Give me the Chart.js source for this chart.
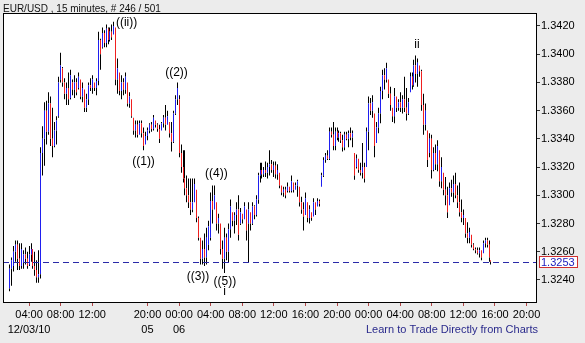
<!DOCTYPE html>
<html><head><meta charset="utf-8">
<script src="https://cdn.jsdelivr.net/npm/chart.js@4/dist/chart.umd.min.js"></script>
<style>html,body{margin:0;padding:0;background:#ececec;overflow:hidden}canvas{display:block}</style>
</head><body>
<canvas id="c" width="585" height="343"></canvas>
<script>
const high=[1.3251,1.3256,1.3264,1.3268,1.3268,1.3266,1.3266,1.3261,1.3263,1.3260,
1.3264,1.3266,1.3262,1.3260,1.3254,1.3261,1.3334,1.3349,1.3366,1.3367,
1.3373,1.3370,1.3362,1.3352,1.3356,1.3384,1.3401,1.3391,1.3383,1.3380,
1.3387,1.3389,1.3382,1.3385,1.3383,1.3387,1.3382,1.3380,1.3375,1.3372,
1.3380,1.3383,1.3385,1.3380,1.3383,1.3416,1.3411,1.3419,1.3417,1.3421,
1.3419,1.3419,1.3421,1.3423,1.3419,1.3397,1.3387,1.3385,1.3383,1.3387,
1.3380,1.3373,1.3368,1.3355,1.3353,1.3353,1.3353,1.3353,1.3348,1.3345,
1.3348,1.3351,1.3352,1.3357,1.3353,1.3351,1.3350,1.3352,1.3357,1.3364,
1.3360,1.3352,1.3352,1.3360,1.3371,1.3380,1.3371,1.3336,1.3332,1.3332,
1.3314,1.3312,1.3312,1.3312,1.3312,1.3304,1.3285,1.3270,1.3268,1.3273,
1.3277,1.3282,1.3302,1.3307,1.3307,1.3295,1.3287,1.3280,1.3268,1.3277,
1.3273,1.3280,1.3297,1.3288,1.3288,1.3295,1.3300,1.3291,1.3287,1.3295,
1.3290,1.3295,1.3288,1.3295,1.3293,1.3300,1.3316,1.3323,1.3323,1.3320,
1.3324,1.3323,1.3332,1.3325,1.3324,1.3324,1.3322,1.3316,1.3307,1.3306,
1.3306,1.3309,1.3306,1.3314,1.3309,1.3309,1.3311,1.3306,1.3299,1.3295,
1.3302,1.3295,1.3293,1.3288,1.3298,1.3295,1.3298,1.3297,1.3316,1.3327,
1.3330,1.3332,1.3348,1.3348,1.3352,1.3348,1.3348,1.3346,1.3345,1.3343,
1.3345,1.3345,1.3346,1.3348,1.3346,1.3330,1.3329,1.3326,1.3323,1.3337,
1.3323,1.3348,1.3370,1.3369,1.3371,1.3358,1.3352,1.3362,1.3377,1.3389,
1.3390,1.3394,1.3382,1.3377,1.3362,1.3376,1.3370,1.3368,1.3373,1.3371,
1.3384,1.3376,1.3369,1.3387,1.3387,1.3396,1.3399,1.3397,1.3392,1.3389,
1.3372,1.3365,1.3346,1.3344,1.3343,1.3334,1.3336,1.3339,1.3332,1.3327,
1.3316,1.3313,1.3306,1.3309,1.3311,1.3314,1.3316,1.3307,1.3309,1.3297,
1.3290,1.3284,1.3281,1.3277,1.3272,1.3266,1.3263,1.3263,1.3263,1.3261,
1.3268,1.3270,1.3270,1.3268,1.3254];
const low=[1.3232,1.3236,1.3246,1.3253,1.3247,1.3247,1.3248,1.3248,1.3251,1.3248,
1.3251,1.3253,1.3248,1.3243,1.3238,1.3238,1.3241,1.3314,1.3321,1.3336,
1.3343,1.3335,1.3327,1.3334,1.3336,1.3355,1.3380,1.3377,1.3368,1.3364,
1.3364,1.3369,1.3371,1.3369,1.3371,1.3375,1.3368,1.3366,1.3359,1.3359,
1.3364,1.3374,1.3372,1.3374,1.3371,1.3378,1.3389,1.3404,1.3405,1.3405,
1.3407,1.3409,1.3410,1.3414,1.3378,1.3372,1.3371,1.3368,1.3371,1.3372,
1.3363,1.3362,1.3355,1.3343,1.3341,1.3341,1.3343,1.3341,1.3332,1.3336,
1.3339,1.3344,1.3345,1.3346,1.3348,1.3345,1.3337,1.3346,1.3348,1.3346,
1.3350,1.3341,1.3331,1.3337,1.3357,1.3364,1.3327,1.3316,1.3309,1.3300,
1.3295,1.3291,1.3286,1.3288,1.3295,1.3281,1.3268,1.3251,1.3251,1.3250,
1.3251,1.3261,1.3268,1.3280,1.3290,1.3275,1.3273,1.3258,1.3248,1.3245,
1.3254,1.3252,1.3270,1.3278,1.3273,1.3279,1.3268,1.3279,1.3280,1.3283,
1.3268,1.3252,1.3275,1.3279,1.3283,1.3285,1.3294,1.3309,1.3312,1.3313,
1.3313,1.3312,1.3314,1.3316,1.3313,1.3312,1.3311,1.3305,1.3300,1.3299,
1.3298,1.3302,1.3302,1.3302,1.3302,1.3304,1.3299,1.3292,1.3287,1.3275,
1.3286,1.3281,1.3280,1.3282,1.3285,1.3286,1.3292,1.3292,1.3306,1.3313,
1.3323,1.3325,1.3325,1.3341,1.3332,1.3332,1.3339,1.3338,1.3337,1.3331,
1.3332,1.3339,1.3334,1.3339,1.3334,1.3311,1.3319,1.3316,1.3314,1.3312,
1.3309,1.3320,1.3332,1.3357,1.3355,1.3327,1.3337,1.3344,1.3351,1.3368,
1.3375,1.3380,1.3369,1.3360,1.3352,1.3351,1.3359,1.3360,1.3359,1.3358,
1.3359,1.3353,1.3357,1.3373,1.3375,1.3377,1.3380,1.3377,1.3384,1.3360,
1.3343,1.3346,1.3320,1.3327,1.3312,1.3317,1.3318,1.3317,1.3306,1.3305,
1.3300,1.3293,1.3284,1.3293,1.3299,1.3295,1.3298,1.3291,1.3285,1.3281,
1.3279,1.3270,1.3266,1.3266,1.3263,1.3261,1.3259,1.3258,1.3256,1.3254,
1.3259,1.3263,1.3263,1.3253,1.3251];
const open=[1.3234,1.3248,1.3250,1.3260,1.3265,1.3255,1.3250,1.3252,1.3258,1.3255,
1.3250,1.3258,1.3262,1.3250,1.3247,1.3242,1.3244,1.3330,1.3340,1.3360,
1.3345,1.3365,1.3340,1.3335,1.3346,1.3356,1.3382,1.3390,1.3380,1.3372,
1.3376,1.3368,1.3380,1.3375,1.3380,1.3376,1.3382,1.3370,1.3375,1.3362,
1.3368,1.3378,1.3376,1.3380,1.3376,1.3381,1.3410,1.3405,1.3415,1.3408,
1.3418,1.3410,1.3416,1.3414,1.3419,1.3382,1.3387,1.3374,1.3380,1.3375,
1.3380,1.3365,1.3368,1.3355,1.3346,1.3350,1.3343,1.3351,1.3344,1.3336,
1.3342,1.3346,1.3350,1.3347,1.3353,1.3350,1.3347,1.3346,1.3351,1.3355,
1.3350,1.3352,1.3344,1.3338,1.3358,1.3368,1.3368,1.3330,1.3320,1.3312,
1.3305,1.3300,1.3295,1.3290,1.3295,1.3304,1.3284,1.3270,1.3255,1.3262,
1.3256,1.3265,1.3270,1.3296,1.3290,1.3295,1.3280,1.3280,1.3262,1.3255,
1.3270,1.3260,1.3276,1.3288,1.3282,1.3286,1.3290,1.3280,1.3287,1.3283,
1.3290,1.3280,1.3288,1.3280,1.3292,1.3286,1.3297,1.3314,1.3318,1.3315,
1.3318,1.3316,1.3320,1.3322,1.3318,1.3321,1.3315,1.3316,1.3307,1.3302,
1.3304,1.3303,1.3306,1.3303,1.3309,1.3304,1.3307,1.3306,1.3295,1.3290,
1.3286,1.3295,1.3284,1.3288,1.3285,1.3295,1.3292,1.3296,1.3306,1.3314,
1.3325,1.3328,1.3326,1.3345,1.3343,1.3335,1.3345,1.3341,1.3344,1.3339,
1.3334,1.3343,1.3340,1.3344,1.3341,1.3330,1.3320,1.3326,1.3318,1.3316,
1.3320,1.3320,1.3345,1.3365,1.3360,1.3358,1.3337,1.3348,1.3358,1.3374,
1.3385,1.3382,1.3382,1.3372,1.3362,1.3356,1.3370,1.3362,1.3366,1.3362,
1.3368,1.3362,1.3358,1.3373,1.3384,1.3378,1.3392,1.3386,1.3392,1.3388,
1.3364,1.3350,1.3346,1.3330,1.3340,1.3318,1.3330,1.3322,1.3332,1.3310,
1.3316,1.3304,1.3300,1.3293,1.3305,1.3302,1.3308,1.3300,1.3295,1.3288,
1.3284,1.3284,1.3273,1.3270,1.3272,1.3265,1.3262,1.3261,1.3259,1.3261,
1.3259,1.3266,1.3268,1.3265,1.3254];
const close=[1.3248,1.3254,1.3260,1.3265,1.3255,1.3250,1.3262,1.3258,1.3255,1.3250,
1.3258,1.3262,1.3250,1.3247,1.3242,1.3244,1.3330,1.3340,1.3360,1.3345,
1.3365,1.3340,1.3335,1.3346,1.3353,1.3380,1.3392,1.3380,1.3372,1.3376,
1.3368,1.3385,1.3375,1.3380,1.3373,1.3384,1.3370,1.3376,1.3362,1.3368,
1.3378,1.3376,1.3382,1.3376,1.3381,1.3410,1.3400,1.3415,1.3408,1.3418,
1.3410,1.3416,1.3412,1.3420,1.3382,1.3390,1.3374,1.3380,1.3375,1.3384,
1.3365,1.3370,1.3356,1.3346,1.3350,1.3343,1.3351,1.3344,1.3335,1.3342,
1.3346,1.3350,1.3347,1.3355,1.3350,1.3347,1.3340,1.3351,1.3355,1.3350,
1.3356,1.3344,1.3338,1.3358,1.3368,1.3376,1.3330,1.3320,1.3312,1.3305,
1.3300,1.3295,1.3290,1.3295,1.3308,1.3284,1.3270,1.3255,1.3262,1.3256,
1.3270,1.3278,1.3296,1.3290,1.3300,1.3280,1.3284,1.3262,1.3255,1.3270,
1.3260,1.3276,1.3292,1.3282,1.3286,1.3290,1.3272,1.3288,1.3283,1.3292,
1.3275,1.3290,1.3280,1.3292,1.3286,1.3297,1.3314,1.3318,1.3315,1.3318,
1.3316,1.3320,1.3322,1.3318,1.3321,1.3315,1.3318,1.3307,1.3302,1.3304,
1.3300,1.3306,1.3303,1.3310,1.3304,1.3307,1.3310,1.3295,1.3290,1.3285,
1.3298,1.3284,1.3290,1.3284,1.3295,1.3290,1.3296,1.3294,1.3314,1.3325,
1.3328,1.3326,1.3345,1.3343,1.3335,1.3345,1.3341,1.3344,1.3339,1.3334,
1.3343,1.3340,1.3344,1.3341,1.3344,1.3314,1.3326,1.3318,1.3316,1.3320,
1.3312,1.3345,1.3365,1.3360,1.3366,1.3335,1.3348,1.3358,1.3374,1.3385,
1.3382,1.3390,1.3372,1.3364,1.3356,1.3370,1.3362,1.3366,1.3362,1.3368,
1.3362,1.3358,1.3366,1.3384,1.3378,1.3392,1.3386,1.3394,1.3388,1.3364,
1.3350,1.3360,1.3325,1.3340,1.3318,1.3330,1.3322,1.3335,1.3310,1.3320,
1.3304,1.3300,1.3288,1.3305,1.3302,1.3308,1.3300,1.3295,1.3288,1.3284,
1.3286,1.3273,1.3270,1.3274,1.3265,1.3262,1.3261,1.3259,1.3261,1.3256,
1.3266,1.3268,1.3265,1.3256,1.3253];

const lastPrice=1.3253;
const priceTicks=[1.3240,1.3260,1.3280,1.3300,1.3320,1.3340,1.3360,1.3380,1.3400,1.3420];
const timeTickPos=[10,26,42,70,86,102,118,134,150,166,182,198,214,230,246,262];
const timeLabels=['04:00','08:00','12:00','20:00','00:00','04:00','08:00','12:00','16:00','20:00','00:00','04:00','08:00','12:00','16:00','20:00'];
const dateLabels=['12/03/10','','','05','06','','','','','','','','','','',''];
const waveLabels=['((ii))','((2))','((1))','((4))','((3))','((5))','i','ii'];
const waveX=[59.4,84.7,68,104.9,95.6,109.2,109.1,206.5];
const waveY=[1.34225,1.33867,1.33238,1.33154,1.32422,1.32390,1.32314,1.34069];
const titleText='EUR/USD , 15 minutes, # 246 / 501';
const footerText='Learn to Trade Directly from Charts';

const FONT='"Liberation Sans", Arial, sans-serif';
const BLUE='#1f1ff0', RED='#f02020', BG='#ececec';
const lowerWick=low.map((l,i)=>({x:i,y:[l,Math.min(open[i],close[i])]}));
const body=open.map((o,i)=>({x:i,y:[o,close[i]]}));
const upperWick=high.map((h,i)=>({x:i,y:[Math.max(open[i],close[i]),h]}));
const bodyColors=open.map((o,i)=>close[i]>=o?BLUE:RED);
const BAR={grouped:false,barPercentage:1,categoryPercentage:0.5066,inflateAmount:0,borderWidth:0};

const deco={id:'deco',
 beforeDraw(c){const ctx=c.ctx,a=c.chartArea;ctx.save();ctx.fillStyle=BG;ctx.fillRect(0,0,c.width,c.height);
  ctx.fillStyle='#fff';ctx.fillRect(a.left,a.top,a.right-a.left,a.bottom-a.top);ctx.restore();},
 beforeDatasetsDraw(c){
  c.data.datasets.forEach((d,di)=>{c.getDatasetMeta(di).data.forEach(el=>{el.x=Math.floor(el.x)+0.5;el.width=1;});});
 },
 afterDatasetsDraw(c){const ctx=c.ctx,a=c.chartArea,xs=c.scales.x,ys=c.scales.y;ctx.save();
  const py=Math.round(ys.getPixelForValue(lastPrice))+0.5;
  ctx.strokeStyle='#2a2aa8';ctx.lineWidth=1;ctx.setLineDash([6,4]);
  ctx.beginPath();ctx.moveTo(a.left,py);ctx.lineTo(a.right,py);ctx.stroke();ctx.setLineDash([]);
  ctx.fillStyle='#000';ctx.font='12px '+FONT;ctx.textAlign='center';ctx.textBaseline='middle';
  waveLabels.forEach((t,i)=>ctx.fillText(t,xs.getPixelForValue(waveX[i]),ys.getPixelForValue(waveY[i])));
  ctx.restore();},
 afterDraw(c){const ctx=c.ctx,a=c.chartArea,ys=c.scales.y;ctx.save();
  ctx.strokeStyle='#000';ctx.lineWidth=1;
  ctx.strokeRect(a.left+0.5,a.top+0.5,a.right-a.left,a.bottom-a.top);
  ctx.fillStyle='#111';ctx.font='10px '+FONT;ctx.textAlign='left';ctx.textBaseline='alphabetic';
  ctx.fillText(titleText,3,12);
  ctx.font='11px '+FONT;
  ctx.fillStyle='#2a2a8c';ctx.fillText(footerText,366,333);
  const py=Math.round(ys.getPixelForValue(lastPrice));
  ctx.fillStyle='#fff';ctx.fillRect(a.right+3,py-5,38,11);
  ctx.strokeStyle='#d03030';ctx.strokeRect(a.right+3.5,py-5.5,38,11);
  ctx.fillStyle='#2020c0';ctx.textBaseline='middle';ctx.fillText(lastPrice.toFixed(4),a.right+5,py+0.5);
  ctx.restore();}
};

new Chart(document.getElementById('c'),{
 type:'bar',
 data:{datasets:[
  Object.assign({data:lowerWick,backgroundColor:'#000'},BAR),
  Object.assign({data:body,backgroundColor:bodyColors},BAR),
  Object.assign({data:upperWick,backgroundColor:'#000'},BAR)
 ]},
 options:{responsive:false,animation:false,devicePixelRatio:1,
  layout:{padding:{left:3,top:13,right:0,bottom:0}},
  plugins:{legend:{display:false},tooltip:{enabled:false},title:{display:false}},
  scales:{
   x:{type:'linear',min:-3.19,max:266.8,offset:false,
    grid:{display:true,drawOnChartArea:false,drawTicks:true,tickLength:4,color:'#b04848',offset:false},
    border:{display:false},
    afterBuildTicks:s=>{s.ticks=timeTickPos.map(v=>({value:v}));},
    afterFit:s=>{s.height=41;},
    ticks:{autoSkip:false,maxRotation:0,minRotation:0,padding:1,color:'#000',
     font:{family:FONT,size:11,lineHeight:'15px'},
     callback:v=>{const k=timeTickPos.indexOf(v);if(k<0)return '';return dateLabels[k]?[timeLabels[k],dateLabels[k]]:timeLabels[k];}}},
   y:{type:'linear',position:'right',min:1.32244,max:1.34292,
    grid:{display:true,drawOnChartArea:false,drawTicks:true,tickLength:4,color:'#333'},
    border:{display:false},
    afterBuildTicks:s=>{s.ticks=priceTicks.map(v=>({value:v}));},
    afterFit:s=>{s.width=49;},
    ticks:{padding:1,color:'#000',font:{family:FONT,size:11},callback:v=>Number(v).toFixed(4)}}
  }}
 ,plugins:[deco]});
</script>
</body></html>
